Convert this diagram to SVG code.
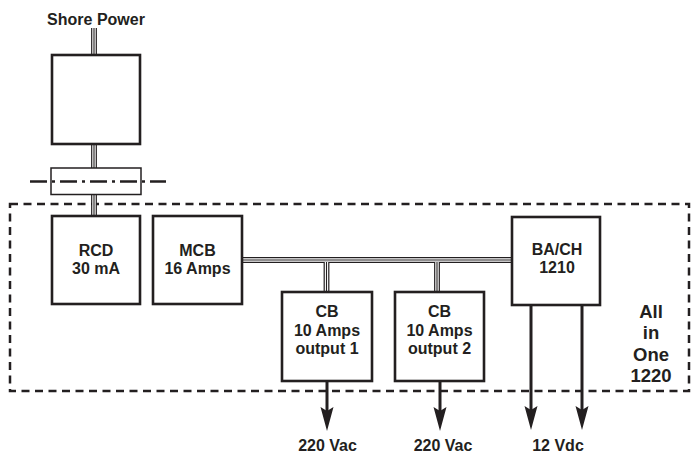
<svg xmlns="http://www.w3.org/2000/svg" width="691" height="453" viewBox="0 0 691 453">
<style>
.box{fill:#fff;stroke:#231f20;stroke-width:2.6}
.fuse{fill:#fff;stroke:#231f20;stroke-width:1.5}
.t{font-family:"Liberation Sans",Arial,sans-serif;font-weight:bold;font-size:16px;fill:#231f20;text-anchor:middle}
.big{font-size:18.5px}
.w1{fill:none;stroke:#231f20;stroke-width:5.8}
.w2{fill:none;stroke:#fff;stroke-width:3.4}
.w3{fill:none;stroke:#231f20;stroke-width:1.1}
.arr{fill:none;stroke:#231f20;stroke-width:3}
.border{fill:none;stroke:#231f20;stroke-width:2.5;stroke-dasharray:8 5.5}
.dashdot{fill:none;stroke:#231f20;stroke-width:2.6;stroke-dasharray:17 5 3 5}
</style>
<defs>
<marker id="ah" markerUnits="userSpaceOnUse" markerWidth="28" markerHeight="16" viewBox="0 0 28 16" refX="14" refY="8" orient="auto">
<path d="M0,1.5 L24,8 L0,14.5 L4,8 Z" fill="#231f20"/>
</marker>
</defs>
<rect class="border" x="10" y="204" width="679" height="187"/>
<g id="connectors">
<path id="wires" d="M94,28 V55 M94,144 V168 M94,195 V216 M242,260 H512 M326.5,262 V292 M437,262 V292"/>
<use href="#wires" class="w1"/>
<use href="#wires" class="w2"/>
<use href="#wires" class="w3"/>
<line class="arr" x1="327" y1="381" x2="327" y2="421" marker-end="url(#ah)"/>
<line class="arr" x1="440" y1="381" x2="440" y2="421" marker-end="url(#ah)"/>
<line class="arr" x1="531" y1="305" x2="531" y2="420" marker-end="url(#ah)"/>
<line class="arr" x1="582" y1="305" x2="582" y2="420" marker-end="url(#ah)"/>
</g>
<g id="shore"><text class="t" x="96" y="25">Shore Power</text></g>
<g id="inlet"><rect class="box" x="52" y="55" width="88" height="89"/></g>
<g id="fuse"><rect class="fuse" x="51" y="168" width="90" height="26.5"/>
<line class="dashdot" x1="30" y1="181.5" x2="166" y2="181.5"/></g>
<g id="rcd"><rect class="box" x="52" y="216" width="88" height="88"/>
<text class="t" x="96" y="256">RCD</text><text class="t" x="96" y="273.5">30 mA</text></g>
<g id="mcb"><rect class="box" x="153" y="216" width="89" height="88"/>
<text class="t" x="197.5" y="256">MCB</text><text class="t" x="197.5" y="273.5">16 Amps</text></g>
<g id="cb1"><rect class="box" x="282" y="292" width="90" height="89"/>
<text class="t" x="327" y="317">CB</text><text class="t" x="327" y="335.5">10 Amps</text><text class="t" x="327" y="354">output 1</text></g>
<g id="cb2"><rect class="box" x="395" y="292" width="89" height="89"/>
<text class="t" x="439.5" y="317">CB</text><text class="t" x="439.5" y="335.5">10 Amps</text><text class="t" x="439.5" y="354">output 2</text></g>
<g id="bach"><rect class="box" x="512" y="217" width="88" height="88"/>
<text class="t" x="557" y="255">BA/CH</text><text class="t" x="557" y="273">1210</text></g>
<g id="allinone"><text class="t big" x="651" y="318">All</text><text class="t big" x="651" y="339">in</text><text class="t big" x="651" y="360.5">One</text><text class="t big" x="651" y="382">1220</text></g>
<g id="outputs">
<text class="t" x="327.5" y="451">220 Vac</text>
<text class="t" x="443" y="451">220 Vac</text>
<text class="t" x="558" y="451">12 Vdc</text>
</g>
</svg>
